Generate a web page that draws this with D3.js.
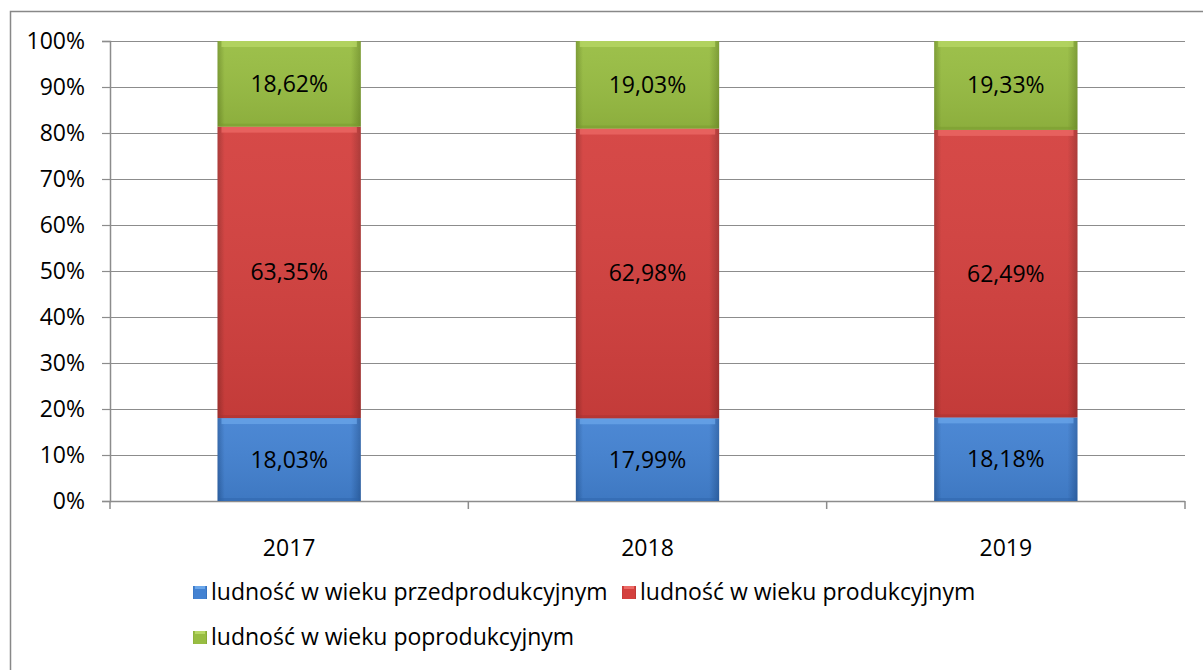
<!DOCTYPE html>
<html>
<head>
<meta charset="utf-8">
<script src="https://cdn.jsdelivr.net/npm/d3@7"></script>
<style>
  body { margin: 0; background: #fff; }
  svg { display: block; font-family: "Open Sans", "DejaVu Sans", sans-serif; }
</style>
</head>
<body>
<div id="chart"></div>
<script>
// data
var years = ["2017", "2018", "2019"];
var seriesNames = ["ludność w wieku przedprodukcyjnym", "ludność w wieku produkcyjnym", "ludność w wieku poprodukcyjnym"];
var przed = [18.03, 17.99, 18.18];
var prod = [63.35, 62.98, 62.49];
var poprod = [18.62, 19.03, 19.33];
var yTicks = [0, 10, 20, 30, 40, 50, 60, 70, 80, 90, 100];

var width = 1203, height = 670;
var margin = {top: 41, left: 110, right: 18, bottom: 169};
var fontSize = 23;

var svg = d3.select("#chart").append("svg")
    .attr("width", width)
    .attr("height", height);

var defs = svg.append("defs");
var colours = [
    {id: "gBlue", light: "#6aa6ea", mid: "#4382d2", dark: "#2e64aa"},
    {id: "gRed", light: "#ec6a66", mid: "#d4403e", dark: "#a83230"},
    {id: "gGreen", light: "#b8d866", mid: "#98bd42", dark: "#78992e"}
];
colours.forEach(function (c) {
    // side shading
    var g = defs.append("linearGradient").attr("id", c.id)
        .attr("x1", 0).attr("y1", 0).attr("x2", 1).attr("y2", 0);
    g.append("stop").attr("offset", "0%").attr("stop-color", c.dark);
    g.append("stop").attr("offset", "5%").attr("stop-color", c.mid);
    g.append("stop").attr("offset", "93%").attr("stop-color", c.mid);
    g.append("stop").attr("offset", "100%").attr("stop-color", c.dark);
    // vertical shading on top of it
    var v = defs.append("linearGradient").attr("id", c.id + "V")
        .attr("x1", 0).attr("y1", 0).attr("x2", 0).attr("y2", 1);
    v.append("stop").attr("offset", "0%").attr("stop-color", "#fff").attr("stop-opacity", 0.05);
    v.append("stop").attr("offset", "100%").attr("stop-color", "#000").attr("stop-opacity", 0.08);
});

// outer frame (right and bottom run off the picture)
svg.append("rect")
    .attr("x", 10.5).attr("y", 11.5)
    .attr("width", 1220).attr("height", 700)
    .attr("fill", "none").attr("stroke", "#888").attr("stroke-width", 1.5);

var plotW = width - margin.left - margin.right,
    plotH = height - margin.top - margin.bottom;

var x = d3.scaleBand().domain(years).range([0, plotW]).paddingInner(0.6).paddingOuter(0.3);
var xb = d3.scaleBand().domain(years).range([0, plotW]);
var y = d3.scaleLinear().domain([0, 100]).range([plotH, 0]);

var g = svg.append("g").attr("transform", "translate(" + margin.left + "," + margin.top + ")");

// gridlines
g.selectAll(".grid").data(yTicks.slice(1)).enter().append("line")
    .attr("x1", 0).attr("x2", plotW)
    .attr("y1", function (d) { return Math.round(y(d)) + 0.5; })
    .attr("y2", function (d) { return Math.round(y(d)) + 0.5; })
    .attr("stroke", "#8c8c8c").attr("stroke-width", 1.2);

// y axis
var yAxis = g.append("g")
    .call(d3.axisLeft(y).tickValues(yTicks).tickSize(8).tickFormat(function (d) { return d + "%"; }));
yAxis.select(".domain").attr("stroke", "#8c8c8c").attr("stroke-width", 1.5);
yAxis.selectAll(".tick line").attr("stroke", "#8c8c8c").attr("stroke-width", 1.2);
yAxis.selectAll(".tick text").attr("font-size", fontSize).attr("fill", "#000").attr("x", -25)
    .attr("font-family", "Open Sans");

// x axis with ticks on category boundaries
var xAxisG = g.append("g").attr("transform", "translate(0," + plotH + ")");
xAxisG.append("line").attr("x1", 0).attr("x2", plotW).attr("y1", 0.5).attr("y2", 0.5)
    .attr("stroke", "#8c8c8c").attr("stroke-width", 1.5);
var bounds = years.map(function (d) { return xb(d); }).concat([plotW]);
xAxisG.selectAll(".bt").data(bounds).enter().append("line")
    .attr("x1", function (d) { return d; }).attr("x2", function (d) { return d; })
    .attr("y1", 0).attr("y2", 8)
    .attr("stroke", "#8c8c8c").attr("stroke-width", 1.5);
xAxisG.selectAll(".xl").data(years).enter().append("text")
    .attr("x", function (d) { return xb(d) + xb.bandwidth() / 2; })
    .attr("y", 55)
    .attr("text-anchor", "middle").attr("font-size", fontSize).attr("fill", "#000")
    .text(function (d) { return d; });

// stacked bars
var rows = years.map(function (yr, i) {
    return {year: yr, s0: przed[i], s1: prod[i], s2: poprod[i]};
});
var stack = d3.stack().keys(["s0", "s1", "s2"]);
var layers = stack(rows);

layers.forEach(function (layer, li) {
    var c = colours[li];
    var lg = g.append("g");
    lg.selectAll(".bar").data(layer).enter().append("rect")
        .attr("x", function (d) { return x(d.data.year); })
        .attr("y", function (d) { return y(d[1]); })
        .attr("width", x.bandwidth())
        .attr("height", function (d) { return y(d[0]) - y(d[1]); })
        .attr("fill", "url(#" + c.id + ")");
    lg.selectAll(".shade").data(layer).enter().append("rect")
        .attr("x", function (d) { return x(d.data.year); })
        .attr("y", function (d) { return y(d[1]); })
        .attr("width", x.bandwidth())
        .attr("height", function (d) { return y(d[0]) - y(d[1]); })
        .attr("fill", "url(#" + c.id + "V)");
    // bevelled top edge
    lg.selectAll(".hl").data(layer).enter().append("rect")
        .attr("x", function (d) { return x(d.data.year) + 4; })
        .attr("y", function (d) { return y(d[1]); })
        .attr("width", x.bandwidth() - 8)
        .attr("height", 6)
        .attr("fill", c.light).attr("opacity", 0.75);
    // darker bottom edge
    lg.selectAll(".bl").data(layer).enter().append("rect")
        .attr("x", function (d) { return x(d.data.year) + 2; })
        .attr("y", function (d) { return y(d[0]) - 3; })
        .attr("width", x.bandwidth() - 4)
        .attr("height", 3)
        .attr("fill", c.dark).attr("opacity", 0.5);
    lg.selectAll("text").data(layer).enter().append("text")
        .attr("x", function (d) { return x(d.data.year) + x.bandwidth() / 2; })
        .attr("y", function (d) { return (y(d[0]) + y(d[1])) / 2 + 8; })
        .attr("text-anchor", "middle").attr("font-size", fontSize).attr("fill", "#000")
        .text(function (d) { return (d[1] - d[0]).toFixed(2).replace(".", ",") + "%"; });
});

// legend
var legendPos = [[193, 592], [622, 592], [193, 637]];
var lgd = svg.selectAll(".lg").data(seriesNames).enter().append("g")
    .attr("transform", function (d, i) { return "translate(" + legendPos[i][0] + "," + legendPos[i][1] + ")"; });
lgd.append("rect").attr("x", 0).attr("y", -6).attr("width", 14).attr("height", 13)
    .attr("fill", function (d, i) { return "url(#" + colours[i].id + ")"; });
lgd.append("rect").attr("x", 2).attr("y", -6).attr("width", 10).attr("height", 3)
    .attr("fill", function (d, i) { return colours[i].light; });
lgd.append("text").attr("x", 18).attr("y", 8).attr("font-size", fontSize).attr("fill", "#000")
    .text(function (d) { return d; });
</script>
</body>
</html>
